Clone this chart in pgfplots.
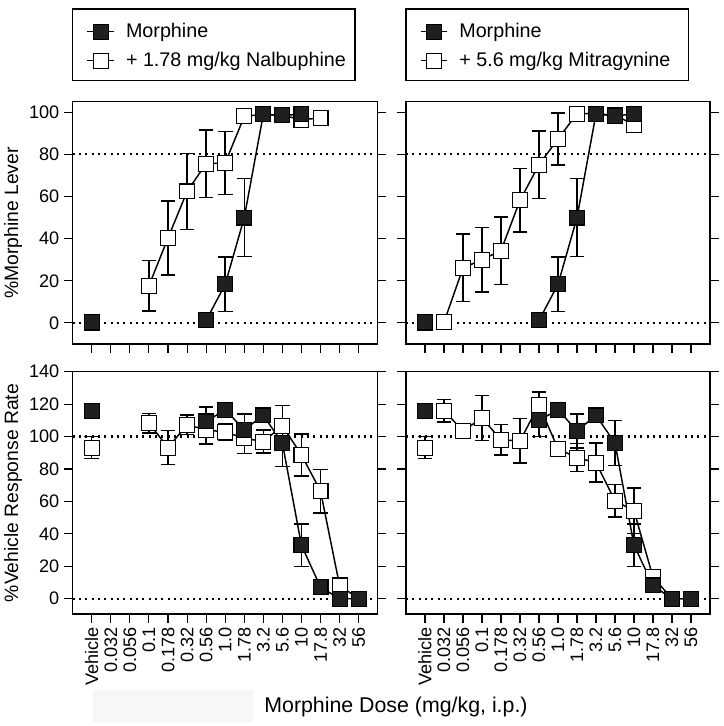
\documentclass[border=0pt]{standalone}
\usepackage{fontspec}
\setmainfont{Liberation Sans}
\usepackage{pgfplots}
\pgfplotsset{compat=1.18}
\begin{document}
\begin{tikzpicture}
\useasboundingbox (0,0) rectangle (543pt,544.5pt);
\pgfplotsset{
  panel/.style={
    scale only axis, xmin=-1, xmax=15,
    xtick={0,...,14}, xtick pos=lower, ytick pos=both,
    tick align=outside, major tick length=6.5pt,
    axis line style={line width=0.8pt},
    every tick/.style={black, line width=0.8pt},
    tick label style={font=\fontsize{13.6}{13.6}\selectfont},
    /pgf/number format/assume math mode=true,
    clip=false,
  },
  toppanel/.style={panel, width=228.75pt, height=181.75pt, ymin=-10, ymax=105,
    ytick={0,20,40,60,80,100}, xticklabels={}},
  botpanel/.style={panel, width=228.75pt, height=181.75pt, ymin=-9.4, ymax=140,
    ytick={0,20,40,60,80,100,120,140},
    xticklabels={Vehicle,0.032,0.056,0.1,0.178,0.32,0.56,1.0,1.78,3.2,5.6,10,17.8,32,56},
    xticklabel style={rotate=90, anchor=east}},
  ref/.style={black, line width=1.6pt, dash pattern=on 1.5pt off 3.25pt, forget plot},
  fmark/.style={mark=square*, mark size=5.6pt, mark options={solid, fill=black!88, draw=black, line width=0.8pt}},
  omark/.style={mark=square*, mark size=5.6pt, mark options={solid, fill=white, draw=black, line width=0.8pt}},
  eb/.style={error bars/.cd, y dir=both, y explicit,
    error bar style={line width=1.1pt, black},
    error mark options={rotate=90, mark size=5.5pt, line width=1.1pt, black}},
  fser/.style={black, line width=1.1pt, fmark, forget plot, eb},
  oser/.style={black, line width=1.1pt, omark, forget plot, eb},
  fveh/.style={black, only marks, fmark, forget plot, eb},
  oveh/.style={black, only marks, omark, forget plot, eb},
  leg/.style={
    legend image code/.code={\draw[mark repeat=2, mark phase=2, ##1] plot coordinates {(0pt,0pt) (10pt,0pt) (20pt,0pt)};},
    legend style={draw=none, fill=none, at={(rel axis cs:0,1)}, anchor=south west,
      xshift=10.5pt, yshift=22.5pt, inner sep=0pt,
      font=\fontsize{14.8}{14.8}\selectfont, row sep=5.5pt,
      /tikz/every odd column/.append style={column sep=6.5pt}},
    legend cell align=left},
}
% legend boxes
\draw[line width=0.8pt] (54.5pt,484pt) rectangle (266.25pt,537.75pt);
\draw[line width=0.8pt] (304.5pt,484pt) rectangle (516.2pt,537.75pt);

% ===== top left =====
\begin{axis}[toppanel, at={(54.525pt,286.5pt)}, anchor=south west, leg]
\addlegendimage{black, line width=0.8pt, fmark}
\addlegendentry{Morphine}
\addlegendimage{black, line width=0.8pt, omark}
\addlegendentry{+ 1.78 mg/kg Nalbuphine}
\addplot[ref] coordinates {(-1,80) (15,80)};
\addplot[ref] coordinates {(-1,0) (15,0)};
\addplot[oveh] coordinates {(0,0) +- (0,0)};
\addplot[oser] coordinates {
(3,17.7) +- (0,12) (4,40.3) +- (0,17.5) (5,62.4) +- (0,18) (6,75.6) +- (0,16)
(7,75.9) +- (0,15) (8,98.0) +- (0,0) (9,99.0) +- (0,0) (10,98.5) +- (0,0)
(11,96.5) +- (0,0) (12,97.2) +- (0,0)};
\addplot[fveh] coordinates {(0,0.3) +- (0,0)};
\addplot[fser] coordinates {
(6,1.2) +- (0,0) (7,18.3) +- (0,13) (8,50.0) +- (0,18.5) (9,99.0) +- (0,0)
(10,98.5) +- (0,0) (11,99.0) +- (0,0)};
\end{axis}

% ===== top right =====
\begin{axis}[toppanel, width=228pt, at={(304.5pt,286.5pt)}, anchor=south west, yticklabels={}, leg]
\addlegendimage{black, line width=0.8pt, fmark}
\addlegendentry{Morphine}
\addlegendimage{black, line width=0.8pt, omark}
\addlegendentry{+ 5.6 mg/kg Mitragynine}
\addplot[ref] coordinates {(-1,80) (15,80)};
\addplot[ref] coordinates {(-1,0) (15,0)};
\addplot[oveh] coordinates {(0,0) +- (0,0)};
\addplot[oser] coordinates {
(1,0.3) +- (0,0) (2,26.1) +- (0,16) (3,30.0) +- (0,15.4) (4,34.3) +- (0,16)
(5,58.2) +- (0,15) (6,75.1) +- (0,16) (7,87.3) +- (0,12.4) (8,99.3) +- (0,0)
(9,99.3) +- (0,0) (10,98.5) +- (0,0) (11,94.1) +- (0,0)};
\addplot[fveh] coordinates {(0,0.3) +- (0,0)};
\addplot[fser] coordinates {
(6,1.2) +- (0,0) (7,18.3) +- (0,13) (8,50.0) +- (0,18.5) (9,99.2) +- (0,0)
(10,98.2) +- (0,0) (11,99.2) +- (0,0)};
\end{axis}

% ===== bottom left =====
\begin{axis}[botpanel, at={(54.525pt,84pt)}, anchor=south west]
\addplot[ref] coordinates {(-1,100) (15,100)};
\addplot[ref] coordinates {(-1,0) (15,0)};
\addplot[oveh] coordinates {(0,93.2) +- (0,6.7)};
\addplot[oser] coordinates {
(3,108.3) +- (0,6) (4,93.2) +- (0,10.5) (5,107.2) +- (0,6) (6,104.2) +- (0,8.7)
(7,102.7) +- (0,5) (8,99.0) +- (0,9.3) (9,96.9) +- (0,7) (10,106.6) +- (0,12.4)
(11,88.7) +- (0,13) (12,66.4) +- (0,13.4) (13,8.2) +- (0,0) (14,0) +- (0,0)};
\addplot[fveh] coordinates {(0,115.5) +- (0,0)};
\addplot[fser] coordinates {
(6,109.3) +- (0,9) (7,116.5) +- (0,4) (8,104.2) +- (0,9.6) (9,113.0) +- (0,4)
(10,96.0) +- (0,14.5) (11,33.0) +- (0,13) (12,7.2) +- (0,2) (13,0) +- (0,0) (14,0) +- (0,0)};
\end{axis}

% ===== bottom right =====
\begin{axis}[botpanel, width=228pt, at={(304.5pt,84pt)}, anchor=south west, yticklabels={}]
\addplot[ref] coordinates {(-1,100) (15,100)};
\addplot[ref] coordinates {(-1,0) (15,0)};
\addplot[oveh] coordinates {(0,93.2) +- (0,6.7)};
\addplot[oser] coordinates {
(1,115.9) +- (0,7) (2,103.5) +- (0,3) (3,111.4) +- (0,14) (4,98.0) +- (0,9.5)
(5,97.3) +- (0,13.7) (6,119.6) +- (0,8) (7,92.4) +- (0,3) (8,87.0) +- (0,8.6)
(9,83.9) +- (0,12) (10,60.4) +- (0,10) (11,54.2) +- (0,14) (12,13.4) +- (0,2)
(13,0) +- (0,0) (14,0) +- (0,0)};
\addplot[fveh] coordinates {(0,115.5) +- (0,0)};
\addplot[fser] coordinates {
(6,110.0) +- (0,10) (7,116.5) +- (0,4) (8,103.5) +- (0,10.5) (9,113.0) +- (0,4)
(10,96.0) +- (0,14) (11,33.0) +- (0,13) (12,8.2) +- (0,2) (13,0) +- (0,0) (14,0) +- (0,0)};
\end{axis}

% axis titles
\node[rotate=90, anchor=base, font=\fontsize{14.5}{14.5}\selectfont] at (13.5pt,377.25pt) {\%Morphine Lever};
\node[rotate=90, anchor=base, font=\fontsize{14.5}{14.5}\selectfont] at (13.5pt,174.75pt) {\%Vehicle Response Rate};
\fill[black!3] (69.75pt,3pt) rectangle (189.75pt,27pt);
\node[anchor=base, font=\fontsize{16}{16}\selectfont] at (297pt,9.75pt) {Morphine Dose (mg/kg, i.p.)};
\end{tikzpicture}
\end{document}
